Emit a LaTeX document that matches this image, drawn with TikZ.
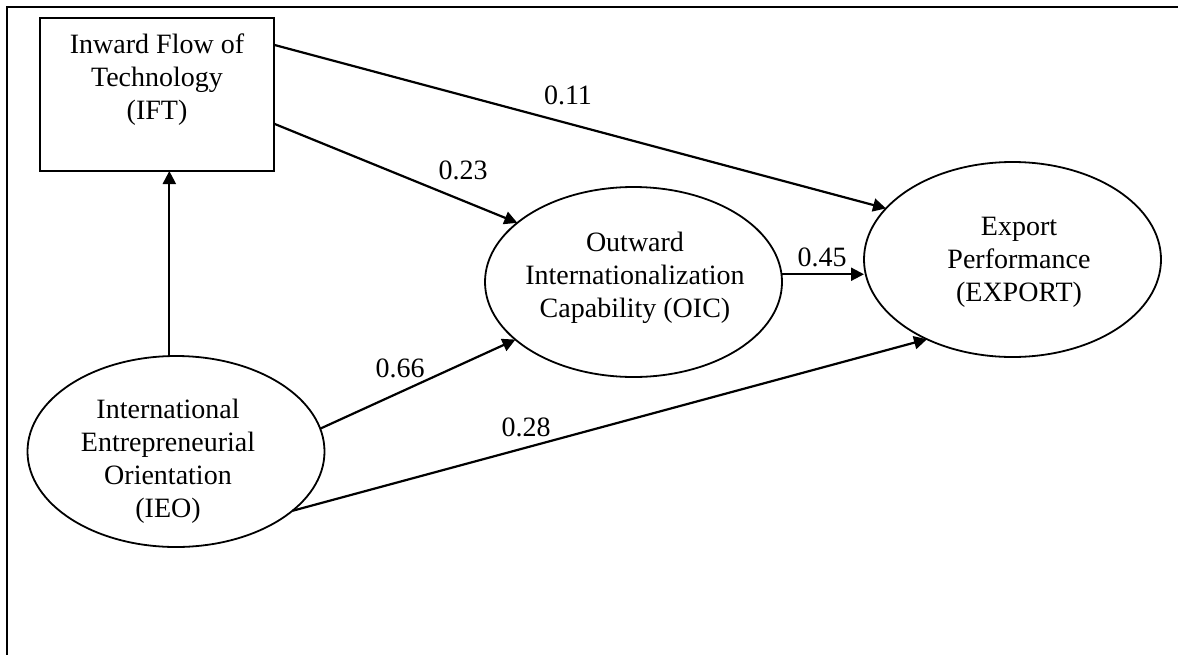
\documentclass[tikz,border=0pt]{standalone}
\usepackage{fontspec}
\setmainfont{Liberation Serif}
\usetikzlibrary{shapes.geometric,arrows.meta}
\begin{document}
\begin{tikzpicture}[x=1pt,y=-1pt,
  frameline/.style={line width=2.6pt},
  boxnode/.style={draw,line width=2pt,rectangle,minimum width=234pt,minimum height=153pt,inner sep=0pt,outer sep=0pt},
  ellnode/.style={draw,line width=1.8pt,ellipse,minimum width=297pt,minimum height=191pt,inner sep=0pt,outer sep=0pt},
  txt/.style={align=center,font=\fontsize{28}{33}\selectfont,inner sep=0pt},
  lbl/.style={font=\fontsize{28}{33}\selectfont,inner sep=0pt},
  conn/.style={line width=2.2pt,-{Triangle[length=13pt,width=13pt]}}]
\useasboundingbox (0,0) rectangle (1178,654);
\draw[frameline] (7,660) -- (7,7) -- (1185,7);
% nodes
\node[boxnode] (ift) at (157,94.5) {};
\node[txt] (iftt) at (157,80) {Inward Flow of\\Technology\\(IFT)};
\node[ellnode] (ieo) at (176,451.5) {};
\node[txt] (ieot) at (168,461) {International\\Entrepreneurial\\Orientation\\(IEO)};
\node[ellnode,minimum height=190pt] (oic) at (633.5,282) {};
\node[txt] (oict) at (635,278) {Outward\\Internationalization\\Capability (OIC)};
\node[ellnode,minimum height=195pt] (exp) at (1012.5,259.5) {};
\node[txt] (expt) at (1019,262) {Export\\Performance\\(EXPORT)};
% connectors
\draw[conn] (ieo.94.8) -- (ieo.94.8 |- ift.south);
\draw[conn] (ift.23.76) -- (exp.158);
\draw[conn] (ift.-14.15) -- (oic.153.1);
\draw[conn] (oic.3.85) -- (oic.3.85 -| exp.west);
\draw[conn] (ieo.9.4) -- (oic.206.5);
\draw[conn] (ieo.-27.3) -- (exp.223.25);
% labels
\node[lbl] (l11) at (568,95) {0.11};
\node[lbl] (l23) at (463,170) {0.23};
\node[lbl] (l45) at (822,257) {0.45};
\node[lbl] (l66) at (400,368) {0.66};
\node[lbl] (l28) at (526,427) {0.28};
\end{tikzpicture}
\end{document}
